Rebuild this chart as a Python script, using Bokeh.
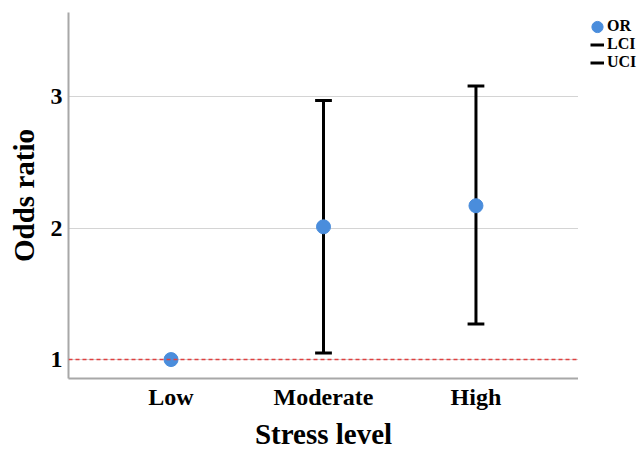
from bokeh.plotting import figure
from bokeh.layouts import row
from bokeh.models import FactorRange, Range1d, Span, Legend, LegendItem, FixedTicker, ColumnDataSource
from bokeh.transform import dodge
from bokeh.embed import file_html
from bokeh.resources import INLINE

# Data
categories = ["Low", "Moderate", "High"]
odds_ratio = [1.0, 2.01, 2.17]
ci_categories = ["Moderate", "High"]
lci = [1.05, 1.27]
uci = [2.97, 3.08]
y_ticks = [1, 2, 3]
reference_value = 1.0

FONT = "Liberation Serif"
OR_COLOR = "#4a8ddc"

src_or = ColumnDataSource(dict(x=categories, y=odds_ratio))
src_ci = ColumnDataSource(dict(x=ci_categories, lci=lci, uci=uci))


def draw_marks(fig):
    fig.segment(x0="x", y0="lci", x1="x", y1="uci", source=src_ci, line_color="black", line_width=3)
    r_l = fig.segment(x0=dodge("x", -0.055, range=fig.x_range), y0="lci",
                      x1=dodge("x", 0.055, range=fig.x_range), y1="lci",
                      source=src_ci, line_color="black", line_width=3)
    r_u = fig.segment(x0=dodge("x", -0.055, range=fig.x_range), y0="uci",
                      x1=dodge("x", 0.055, range=fig.x_range), y1="uci",
                      source=src_ci, line_color="black", line_width=3)
    r_o = fig.ellipse(x="x", y="y", width=14, height=14, width_units="screen", height_units="screen",
                      source=src_or, fill_color=OR_COLOR, line_color=OR_COLOR)
    return r_o, r_l, r_u


p = figure(width=578, height=452, output_backend="svg", toolbar_location=None,
           x_range=FactorRange(*categories, range_padding=0.115),
           y_range=Range1d(0.856, 3.64),
           min_border_left=68, min_border_right=0, min_border_top=12, min_border_bottom=74)
p.outline_line_color = None
p.background_fill_color = "white"
p.border_fill_color = "white"

draw_marks(p)

span = Span(location=reference_value, dimension="width", line_color="#e04040",
            line_dash="4 3", line_width=1.5, level="overlay")
p.add_layout(span)

# axes
p.xgrid.grid_line_color = None
p.ygrid.grid_line_color = "#d4d4d4"
p.ygrid.grid_line_width = 1
p.yaxis.ticker = FixedTicker(ticks=y_ticks)
for ax in (p.xaxis[0], p.yaxis[0]):
    ax.axis_line_color = "#a8a8a8"
    ax.axis_line_width = 2
    ax.major_tick_line_color = None
    ax.minor_tick_line_color = None
    ax.major_tick_out = 0
    ax.major_tick_in = 0
    ax.minor_tick_out = 0
    ax.minor_tick_in = 0
    ax.major_label_text_font = FONT
    ax.major_label_text_font_style = "bold"
    ax.major_label_text_font_size = "24px"
    ax.major_label_text_color = "black"
    ax.axis_label_text_font = FONT
    ax.axis_label_text_font_style = "bold"
    ax.axis_label_text_font_size = "29px"
    ax.axis_label_text_color = "black"
p.xaxis.axis_label = "Stress level"
p.yaxis.axis_label = "Odds ratio"
p.xaxis.major_label_standoff = 5
p.yaxis.major_label_standoff = 6
p.xaxis.axis_label_standoff = 5
p.yaxis.axis_label_standoff = 8

# Legend panel: a narrow figure whose ranges keep its own copies of the marks out of view
lg = figure(width=66, height=452, output_backend="svg", toolbar_location=None,
            x_range=FactorRange(*categories), y_range=Range1d(100, 101),
            x_axis_type=None, y_axis_type=None,
            min_border_left=7, min_border_top=8, min_border_right=0, min_border_bottom=0)
lg.outline_line_color = None
lg.border_fill_color = "white"
lg.xgrid.visible = False
lg.ygrid.visible = False
lg_or, lg_l, lg_u = draw_marks(lg)

legend = Legend(items=[LegendItem(label="OR", renderers=[lg_or]),
                       LegendItem(label="LCI", renderers=[lg_l]),
                       LegendItem(label="UCI", renderers=[lg_u])],
                location="top_left", margin=5, padding=0, spacing=0,
                glyph_width=14, glyph_height=17, label_height=17, label_standoff=3,
                label_text_font=FONT, label_text_font_style="bold", label_text_font_size="16px",
                label_text_color="black",
                border_line_color=None, background_fill_alpha=0)
lg.add_layout(legend)

layout = row(p, lg, spacing=0)
open("out.html", "w").write(file_html(layout, INLINE))
